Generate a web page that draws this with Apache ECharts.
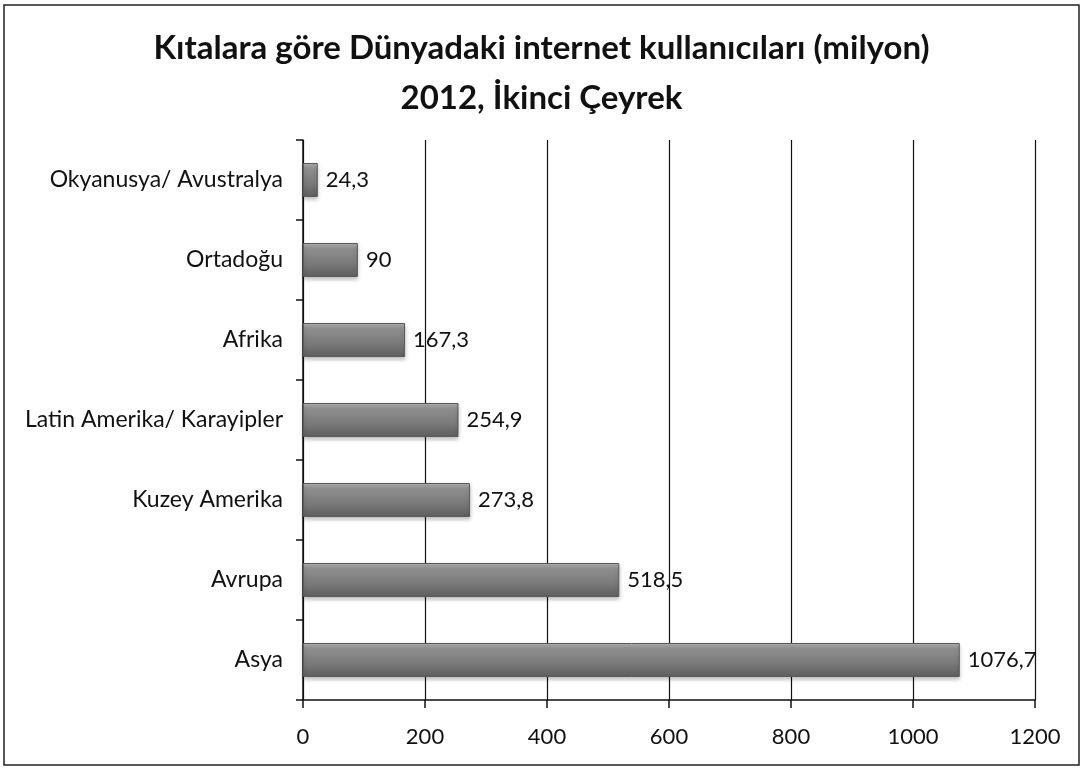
<!DOCTYPE html>
<html>
<head>
<meta charset="utf-8">
<title>Kıtalara göre Dünyadaki internet kullanıcıları</title>
<script src="https://cdn.jsdelivr.net/npm/echarts@6/dist/echarts.min.js"></script>
<style>
  html, body { margin: 0; padding: 0; background: #fff; }
  #chart { width: 1083px; height: 769px; }
</style>
</head>
<body>
<div id="chart"></div>
<script>
// kıtalar (yukarıdan aşağıya)
const continents = ['Okyanusya/ Avustralya', 'Ortadoğu', 'Afrika', 'Latin Amerika/ Karayipler', 'Kuzey Amerika', 'Avrupa', 'Asya']
const users = [24.3, 90, 167.3, 254.9, 273.8, 518.5, 1076.7]
const xTicks = [0, 200, 400, 600, 800, 1000, 1200]

const fontFamily = 'Lato, "Open Sans", sans-serif'

const chart = echarts.init(document.getElementById('chart'))

// 3D görünümlü gri çubuk
const barColor = new echarts.graphic.LinearGradient(0, 0, 0, 1, [
  { offset: 0, color: '#b4b4b4' },
  { offset: 0.18, color: '#8e8e8e' },
  { offset: 0.6, color: '#7a7a7a' },
  { offset: 1, color: '#5e5e5e' }
])

chart.setOption({
  backgroundColor: '#fff',
  animation: false,
  title: {
    text: 'Kıtalara göre Dünyadaki internet kullanıcıları (milyon)\n2012, İkinci Çeyrek',
    left: 'center',
    top: 18,
    textStyle: {
      fontFamily: fontFamily,
      fontSize: 33,
      fontWeight: 'bold',
      color: '#111',
      lineHeight: 50
    }
  },
  graphic: [{
    type: 'rect',
    shape: { x: 4, y: 5, width: 1075, height: 760 },
    style: { fill: 'none', stroke: '#222', lineWidth: 1.5 },
    silent: true
  }],
  grid: {
    left: 303,
    right: 48,
    top: 140,
    bottom: 69
  },
  xAxis: {
    type: 'value',
    min: xTicks[0],
    max: xTicks[xTicks.length - 1],
    interval: 200,
    axisLine: { show: true, lineStyle: { color: '#111', width: 1.5 } },
    axisTick: { show: true, length: 8, lineStyle: { color: '#111', width: 1.5 } },
    splitLine: { show: true, lineStyle: { color: '#111', width: 1.2 } },
    axisLabel: {
      margin: 26,
      color: '#111',
      fontFamily: fontFamily,
      fontSize: 22,
      formatter: v => String(v)
    }
  },
  yAxis: {
    type: 'category',
    data: continents,
    inverse: true,
    axisLine: { show: true, lineStyle: { color: '#111', width: 1.5 } },
    axisTick: { show: true, length: 7, lineStyle: { color: '#111', width: 1.5 } },
    axisLabel: {
      margin: 20,
      color: '#111',
      fontFamily: fontFamily,
      fontSize: 23
    }
  },
  series: [{
    type: 'bar',
    data: users,
    barWidth: 34,
    itemStyle: {
      color: barColor,
      borderColor: '#5a5a5a',
      borderWidth: 1,
      shadowColor: 'rgba(0,0,0,0.25)',
      shadowBlur: 4,
      shadowOffsetY: 2
    },
    label: {
      show: true,
      position: 'right',
      distance: 8,
      color: '#111',
      fontFamily: fontFamily,
      fontSize: 22,
      formatter: p => String(p.value).replace('.', ',')
    }
  }]
})
</script>
</body>
</html>
